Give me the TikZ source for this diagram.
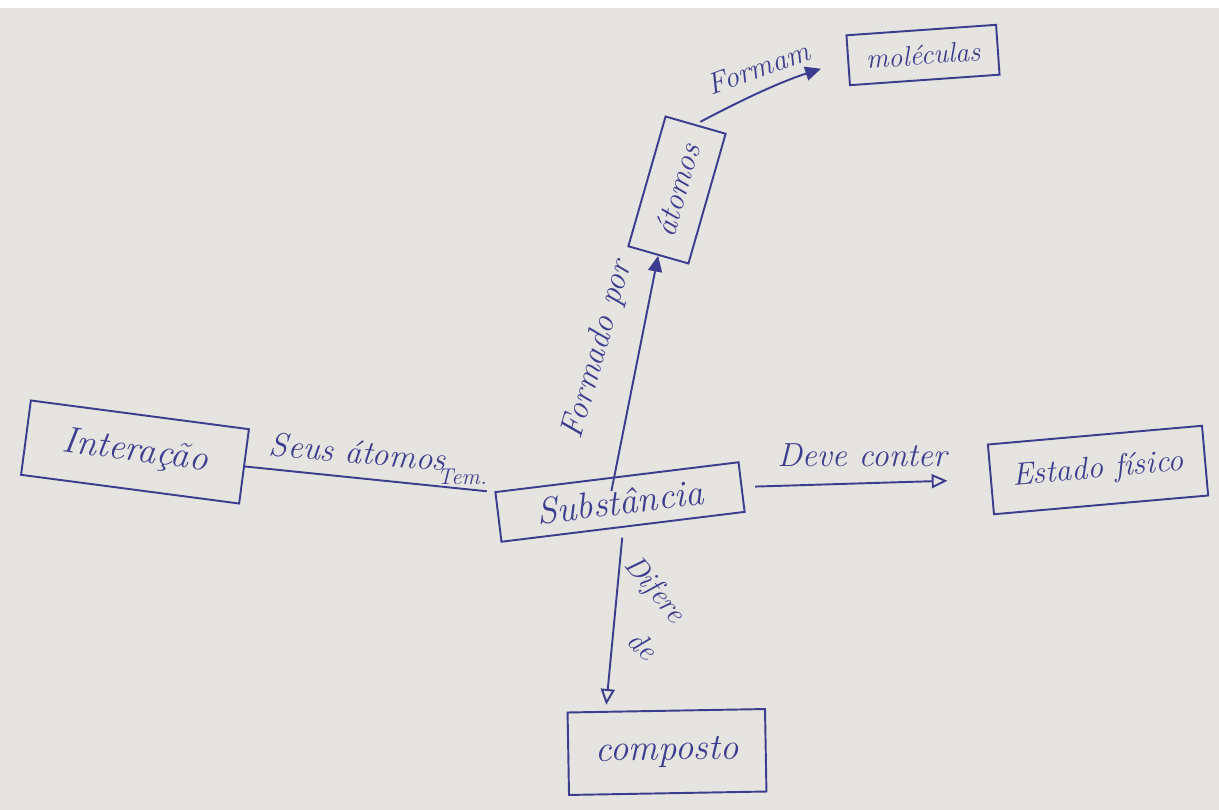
\documentclass[tikz,border=0pt]{standalone}
\usetikzlibrary{arrows.meta}
\definecolor{paper}{HTML}{E5E4E0}
\definecolor{ink}{HTML}{3D3D8F}
\begin{document}
\begin{tikzpicture}[x=0.02cm,y=-0.02cm,
  box/.style={draw=ink,line width=1.1pt,inner sep=0pt,text=ink,font=\itshape\fontsize{21}{24}\selectfont},
  lab/.style={text=ink,font=\itshape\fontsize{19}{22}\selectfont,inner sep=1pt},
  conn/.style={draw=ink,line width=1.1pt},
  openarr/.style={-{Triangle[open,length=9pt,width=8pt]}},
  fullarr/.style={-{Triangle[length=9pt,width=8pt]}}]
\fill[paper] (0,0) rectangle (1219,810);
\fill[white] (0,0) rectangle (1219,8);
\useasboundingbox (0,0) rectangle (1219,810);

\node[box,rotate=-7.5,minimum width=4.4cm,minimum height=1.5cm] (int) at (135,452) {Interação};
\node[box,rotate=7,minimum width=4.9cm,minimum height=1.0cm] (sub) at (620,502) {Substância};
\node[box,rotate=5,minimum width=4.3cm,minimum height=1.4cm,font=\itshape\fontsize{18}{22}\selectfont] (est) at (1098,470) {Estado físico};
\node[box,rotate=1,minimum width=3.95cm,minimum height=1.65cm] (comp) at (667,752) {composto};
\node[box,rotate=74,minimum width=2.7cm,minimum height=1.25cm,font=\itshape\fontsize{18}{22}\selectfont] (ato) at (677,190) {átomos};
\node[box,rotate=4,minimum width=3.0cm,minimum height=1.0cm,font=\itshape\fontsize{16}{20}\selectfont] (mol) at (923,55) {moléculas};

\draw[conn] (int.east) -- ([xshift=-0.15cm]sub.north west);
\draw[conn,openarr,shorten <=0.25cm,shorten >=0.85cm] (sub.east) -- (est.west);
\draw[conn,openarr,shorten <=0.2cm] (sub.south) -- ([xshift=-1.2cm,yshift=0.1cm]comp.north);
\draw[conn,fullarr,shorten <=-0.3cm] ([xshift=-0.05cm]sub.north) -- (ato.west);
\draw[conn,fullarr,shorten <=0.1cm,shorten >=0.55cm] (ato.east) to[bend left=5] (mol.west);

\node[lab,rotate=-5] (l1) at (358,452) {Seus átomos};
\node[lab,font=\itshape\fontsize{13}{15}\selectfont] (l1b) at (462,477) {Tem.};
\node[lab] (l2) at (862,455) {Deve conter};
\node[lab,rotate=74] (l3) at (598,350) {Formado por};
\node[lab,rotate=20,font=\itshape\fontsize{17}{20}\selectfont] (l4) at (758,68) {Formam};
\node[lab,rotate=-50,font=\itshape\fontsize{17}{20}\selectfont] (l5) at (654,590) {Difere};
\node[lab,rotate=-45,font=\itshape\fontsize{17}{20}\selectfont] (l6) at (643,645) {de};
\end{tikzpicture}
\end{document}
